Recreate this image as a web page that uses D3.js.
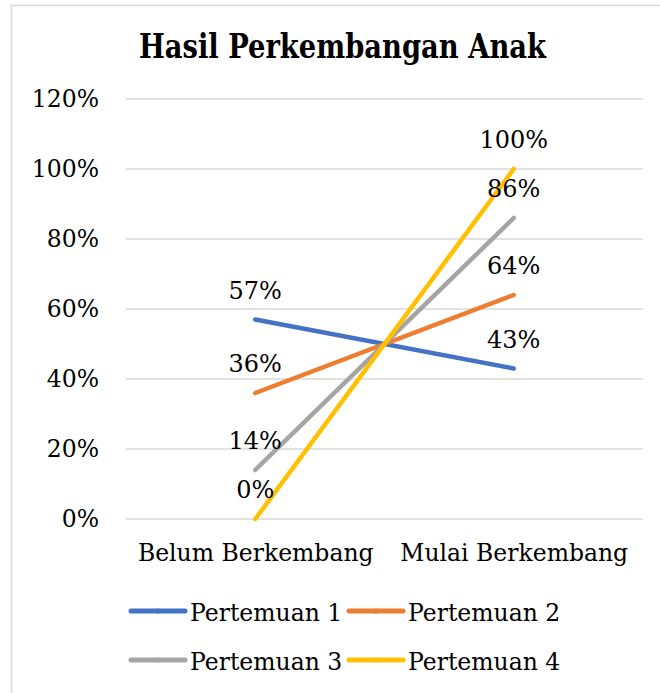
<!DOCTYPE html>
<html>
<head>
<meta charset="utf-8">
<script src="https://cdn.jsdelivr.net/npm/d3@7"></script>
<style>
  body { margin: 0; background: #fff; }
  text { font-family: "DejaVu Serif", serif; fill: #000; }
</style>
</head>
<body>
<script>
(function() {

    const width = 660;
    const height = 693;

    // data
    const categories = ["Belum Berkembang", "Mulai Berkembang"];
    const seriesNames = ["Pertemuan 1", "Pertemuan 2", "Pertemuan 3", "Pertemuan 4"];
    const pertemuan1 = [0.57, 0.43];
    const pertemuan2 = [0.36, 0.64];
    const pertemuan3 = [0.14, 0.86];
    const pertemuan4 = [0.00, 1.00];
    const yTicks = [0, 0.2, 0.4, 0.6, 0.8, 1.0, 1.2];
    const colors = ["#4472C4", "#ED7D31", "#A5A5A5", "#FFC000"];

    const series = [pertemuan1, pertemuan2, pertemuan3, pertemuan4];

    let svg = d3.select("body").append("svg")
        .attr("width", width)
        .attr("height", height);

    // chart border
    svg.append("rect")
        .attr("x", 11.5)
        .attr("y", 5.5)
        .attr("width", 700)
        .attr("height", 720)
        .style("fill", "none")
        .style("stroke", "#d9d9d9")
        .style("stroke-width", 1.5);

    svg.append("text")
        .attr("x", 139)
        .attr("y", 58)
        .attr("textLength", 407)
        .attr("lengthAdjust", "spacingAndGlyphs")
        .style("font-family", "'DejaVu Serif Condensed', 'DejaVu Serif', serif")
        .style("font-weight", "bold")
        .style("font-size", "34px")
        .text("Hasil Perkembangan Anak");

    let x = d3.scalePoint()
        .domain(categories)
        .range([126, 643])
        .padding(0.5);

    let y = d3.scaleLinear()
        .domain([0, 1.2])
        .range([519, 99]);

    // gridlines
    svg.append("g")
        .selectAll("line")
        .data(yTicks)
        .enter()
        .append("line")
        .attr("x1", 126)
        .attr("x2", 643)
        .attr("y1", d => y(d))
        .attr("y2", d => y(d))
        .style("stroke", "#d9d9d9")
        .style("stroke-width", 1.5);

    // y axis labels
    let yAxis = d3.axisLeft(y)
        .tickValues(yTicks)
        .tickFormat(d3.format(".0%"))
        .tickSize(0)
        .tickPadding(27);

    let yg = svg.append("g")
        .attr("transform", "translate(126,0)")
        .call(yAxis);
    yg.select(".domain").remove();
    yg.selectAll("text")
        .style("font-family", "'DejaVu Serif', serif")
        .style("font-size", "23.5px");

    // x axis labels
    let xAxis = d3.axisBottom(x)
        .tickSize(0)
        .tickPadding(25);

    let xg = svg.append("g")
        .attr("transform", "translate(0,519)")
        .call(xAxis);
    xg.select(".domain").remove();
    xg.selectAll("text")
        .style("font-family", "'DejaVu Serif', serif")
        .style("font-size", "23.5px");

    let line = d3.line()
        .x((d, i) => x(categories[i]))
        .y(d => y(d));

    series.forEach(function(values, s) {
        svg.append("path")
            .datum(values)
            .attr("d", line)
            .style("fill", "none")
            .style("stroke", colors[s])
            .style("stroke-width", 4.5)
            .style("stroke-linecap", "round");
    });

    // data labels
    series.forEach(function(values, s) {
        svg.append("g")
            .selectAll("text")
            .data(values)
            .enter()
            .append("text")
            .attr("x", (d, i) => x(categories[i]))
            .attr("y", d => y(d) - 21)
            .attr("text-anchor", "middle")
            .style("font-size", "24px")
            .text(d => d3.format(".0%")(d));
    });

    // legend
    let legendPos = [[131, 611], [349, 611], [131, 660], [349, 660]];

    let legend = svg.append("g")
        .selectAll("g")
        .data(seriesNames)
        .enter()
        .append("g")
        .attr("transform", (d, i) => "translate(" + legendPos[i][0] + "," + legendPos[i][1] + ")");

    legend.append("line")
        .attr("x1", 0)
        .attr("x2", 54)
        .style("stroke", (d, i) => colors[i])
        .style("stroke-width", 5)
        .style("stroke-linecap", "round");

    legend.append("circle")
        .attr("cx", 27)
        .attr("r", 2.5)
        .style("fill", (d, i) => colors[i]);

    legend.append("text")
        .attr("x", 59)
        .attr("y", 10)
        .style("font-size", "23.5px")
        .text(d => d);

})();
</script>
</body>
</html>
